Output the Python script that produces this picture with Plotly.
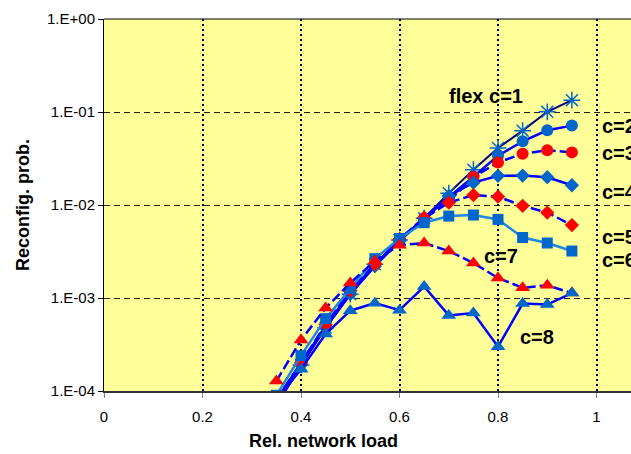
import plotly.graph_objects as go

loads = [0.35, 0.40, 0.45, 0.50, 0.55, 0.60, 0.65, 0.70, 0.75, 0.80, 0.85, 0.90, 0.95]

flex_c1 = [0.00007, 0.00019, 0.00048, 0.0011, 0.0023, 0.0042, 0.0072, 0.0134, 0.024, 0.041, 0.063, 0.1005, 0.134]
c2 = [0.00008, 0.00020, 0.00050, 0.00115, 0.0023, 0.0042, 0.0072, 0.0121, 0.0202, 0.0339, 0.0484, 0.0636, 0.0714]
c3 = [0.00008, 0.00020, 0.00050, 0.00120, 0.0023, 0.0042, 0.0071, 0.0109, 0.0200, 0.0287, 0.0356, 0.0387, 0.0368]
c4 = [0.00007, 0.00019, 0.00048, 0.00110, 0.0022, 0.0041, 0.0072, 0.0125, 0.0174, 0.0206, 0.0207, 0.0199, 0.0163]
c5 = [0.00008, 0.00020, 0.00052, 0.00120, 0.0023, 0.0043, 0.0073, 0.0106, 0.0128, 0.0123, 0.0098, 0.0083, 0.00608]
c6 = [0.00009, 0.00024, 0.00060, 0.00126, 0.00265, 0.00436, 0.00645, 0.0076, 0.0078, 0.0070, 0.00447, 0.0039, 0.0032]
c7 = [0.000128, 0.000353, 0.00078, 0.00145, 0.0025, 0.0037, 0.0039, 0.0032, 0.00238, 0.00164, 0.00129, 0.00137, 0.00113]
c8 = [0.00008, 0.000171, 0.00041, 0.00073, 0.00088, 0.00074, 0.00133, 0.00065, 0.00069, 0.0003, 0.00087, 0.00085, 0.00113]

y_tickvals = [1e-4, 1e-3, 1e-2, 1e-1, 1]
y_ticktext = ["1.E-04", "1.E-03", "1.E-02", "1.E-01", "1.E+00"]
x_tickvals = [0, 0.2, 0.4, 0.6, 0.8, 1.0]
x_ticktext = ["0", "0.2", "0.4", "0.6", "0.8", "1"]

label_texts = ["flex c=1", "c=2", "c=3", "c=4", "c=5", "c=6", "c=7", "c=8"]
label_x = [0.776, 1.008, 1.008, 1.008, 1.008, 1.008, 0.768, 0.841]
label_logy = [-0.825, -1.148, -1.439, -1.86, -2.342, -2.593, -2.55, -3.42]
label_anchor = ["center", "left", "left", "left", "left", "left", "left", "left"]

x_title = "Rel. network load"
y_title = "Reconfig. prob."

BLUE_M = "#0066CC"
RED_M = "#FF0000"
LINE_B = "#0000FF"
FONT = "Liberation Sans, Arial, sans-serif"

fig = go.Figure()

fig.add_trace(go.Scatter(
    x=loads, y=flex_c1, mode="lines+markers",
    line=dict(color="#000080", width=2),
    marker=dict(symbol="asterisk-open", size=14, color=BLUE_M,
                line=dict(color=BLUE_M, width=1.5)),
))

series = [
    (c2, "circle", 12, BLUE_M, LINE_B, "solid"),
    (c3, "circle", 12, RED_M, LINE_B, "10px,4px"),
    (c4, "diamond", 11, BLUE_M, LINE_B, "solid"),
    (c5, "diamond", 11, RED_M, LINE_B, "10px,4px"),
    (c6, "square", 11, BLUE_M, "#1C86E6", "solid"),
    (c7, "triangle-up", 13, RED_M, LINE_B, "10px,4px"),
    (c8, "triangle-up", 13, BLUE_M, LINE_B, "solid"),
]
for vals, sym, sz, mcol, lcol, dash in series:
    fig.add_trace(go.Scatter(
        x=loads, y=vals, mode="lines+markers",
        line=dict(color=lcol, width=2.5, dash=dash),
        marker=dict(symbol=sym, size=sz, color=mcol, line=dict(width=0)),
    ))

for t, xx, yy, anc in zip(label_texts, label_x, label_logy, label_anchor):
    fig.add_annotation(
        x=xx, y=yy, xref="x", yref="y", text="<b>" + t + "</b>", showarrow=False,
        xanchor=anc, yanchor="middle",
        font=dict(family=FONT, size=20, color="black"),
    )

# x-axis title, centred where the reference puts it
fig.add_annotation(
    x=0.445, y=-0.135, xref="x", yref="paper", text="<b>" + x_title + "</b>",
    showarrow=False, xanchor="center", yanchor="middle",
    font=dict(family=FONT, size=18, color="black"),
)

fig.add_shape(type="line", xref="paper", yref="paper", x0=0, x1=1, y0=1, y1=1,
              line=dict(color="black", width=1))

fig.update_layout(
    width=631, height=454,
    margin=dict(l=104, r=0, t=19, b=63),
    paper_bgcolor="white",
    plot_bgcolor="#FFFF99",
    showlegend=False,
    font=dict(family=FONT, color="black"),
    xaxis=dict(
        range=[0, 1.07], tickvals=x_tickvals, ticktext=x_ticktext,
        ticks="outside", ticklen=5, tickcolor="#808080", tickwidth=1,
        ticklabelstandoff=6,
        tickfont=dict(size=15),
        showline=True, linecolor="#333333", linewidth=2,
        showgrid=True, gridcolor="black", gridwidth=2, griddash="2px,3px",
        zeroline=False,
    ),
    yaxis=dict(
        type="log", range=[-4, 0], tickvals=y_tickvals, ticktext=y_ticktext,
        ticks="outside", ticklen=5, tickcolor="black", tickwidth=1,
        tickfont=dict(size=15),
        showline=True, linecolor="black", linewidth=1,
        showgrid=True, gridcolor="#222222", gridwidth=1, griddash="6px,4px",
        zeroline=False,
        title=dict(text="<b>" + y_title + "</b>", font=dict(size=18), standoff=12),
    ),
)

fig.write_html("out.html")
